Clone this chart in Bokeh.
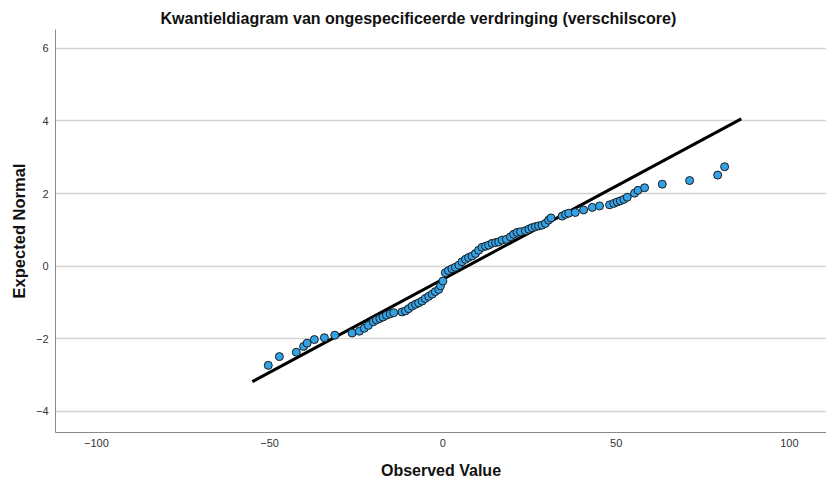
from bokeh.plotting import figure
from bokeh.models import ColumnDataSource, FixedTicker, Range1d
from bokeh.embed import file_html
from bokeh.resources import INLINE

# Observed values (verschilscore) and expected normal quantiles
observed = [-50.4, -47.2, -42.3, -40.2, -39.2, -37.1, -34.2, -31.2, -26.2, -24.1,
            -22.7, -21.5, -20.1, -19.2, -18.2, -17.3, -16.3, -15.2, -14.2, -11.8,
            -10.8, -9.9, -8.9, -7.9, -7.0, -6.0, -5.1, -4.1, -3.1, -2.2,
            -1.2, -0.7, 0.0, 0.7, 1.6, 2.6, 3.6, 4.6, 5.5, 6.5,
            7.4, 8.4, 9.4, 10.3, 11.3, 12.3, 13.2, 14.2, 15.2, 16.1,
            17.1, 18.3, 19.5, 20.4, 21.4, 22.4, 23.8, 24.8, 25.7, 26.7,
            27.6, 28.6, 29.6, 30.5, 31.2, 34.4, 35.4, 36.3, 38.2, 40.6,
            43.1, 45.2, 48.1, 49.3, 50.3, 51.2, 52.2, 53.2, 55.3, 56.3,
            58.2, 63.3, 71.2, 79.3, 81.3]
expected = [-2.73, -2.49, -2.37, -2.21, -2.12, -2.02, -1.97, -1.90, -1.84, -1.79,
            -1.71, -1.63, -1.53, -1.48, -1.44, -1.40, -1.35, -1.31, -1.28, -1.26,
            -1.23, -1.17, -1.10, -1.05, -1.01, -0.96, -0.89, -0.83, -0.77, -0.70,
            -0.64, -0.54, -0.41, -0.18, -0.12, -0.07, -0.03, 0.03, 0.12, 0.19,
            0.24, 0.28, 0.35, 0.44, 0.52, 0.55, 0.58, 0.63, 0.65, 0.67,
            0.72, 0.74, 0.81, 0.88, 0.93, 0.95, 0.98, 1.02, 1.06, 1.09,
            1.11, 1.13, 1.18, 1.27, 1.33, 1.38, 1.43, 1.46, 1.48, 1.55,
            1.62, 1.66, 1.69, 1.73, 1.77, 1.80, 1.84, 1.90, 2.01, 2.09,
            2.16, 2.26, 2.36, 2.51, 2.74]

# Reference normal line endpoints
line_x = [-55.0, 86.1]
line_y = [-3.18, 4.06]

x_ticks = [-100, -50, 0, 50, 100]
y_ticks = [-4, -2, 0, 2, 4, 6]

FONT = "Liberation Sans"

p = figure(width=826, height=481, output_backend="svg", toolbar_location=None,
           x_range=Range1d(-111.8, 110.7), y_range=Range1d(-4.58, 6.52),
           title="Kwantieldiagram van ongespecificeerde verdringing (verschilscore)",
           min_border_left=55, min_border_right=0, min_border_top=29, min_border_bottom=0)

p.title.align = "left"
p.title.text_font = FONT
p.title.text_font_size = "16px"
p.title.text_font_style = "bold"
p.title.text_color = "#111111"
p.title.offset = 105
p.title.standoff = 6

p.outline_line_color = None
p.background_fill_color = "white"
p.border_fill_color = "white"

p.xgrid.visible = False
p.ygrid.grid_line_color = "#d4d4d4"
p.ygrid.grid_line_width = 1.5
p.ygrid.ticker = FixedTicker(ticks=y_ticks)

for ax in (p.xaxis[0], p.yaxis[0]):
    ax.axis_line_color = "#8a8a8a"
    ax.axis_line_width = 1
    ax.major_tick_line_color = None
    ax.minor_tick_line_color = None
    ax.major_tick_in = 0
    ax.major_tick_out = 0
    ax.minor_tick_out = 0
    ax.major_label_text_font = FONT
    ax.major_label_text_font_size = "11px"
    ax.major_label_text_color = "#333333"
    ax.axis_label_text_font = FONT
    ax.axis_label_text_font_style = "bold"
    ax.axis_label_text_color = "#111111"

p.xaxis[0].axis_label_text_font_size = "16px"
p.yaxis[0].axis_label_text_font_size = "16.5px"
p.xaxis[0].ticker = FixedTicker(ticks=x_ticks)
p.yaxis[0].ticker = FixedTicker(ticks=y_ticks)
p.xaxis[0].axis_label = "Observed Value"
p.yaxis[0].axis_label = "Expected Normal"
p.xaxis[0].major_label_standoff = 6
p.xaxis[0].axis_label_standoff = 12
p.yaxis[0].major_label_standoff = 7
p.yaxis[0].axis_label_standoff = 5

p.line(line_x, line_y, line_color="black", line_width=3)

src = ColumnDataSource(dict(x=observed, y=expected))
p.scatter("x", "y", source=src, size=8, fill_color="#33a2e6",
          line_color="#1c1c1c", line_width=1)

open("out.html", "w").write(file_html(p, INLINE))
